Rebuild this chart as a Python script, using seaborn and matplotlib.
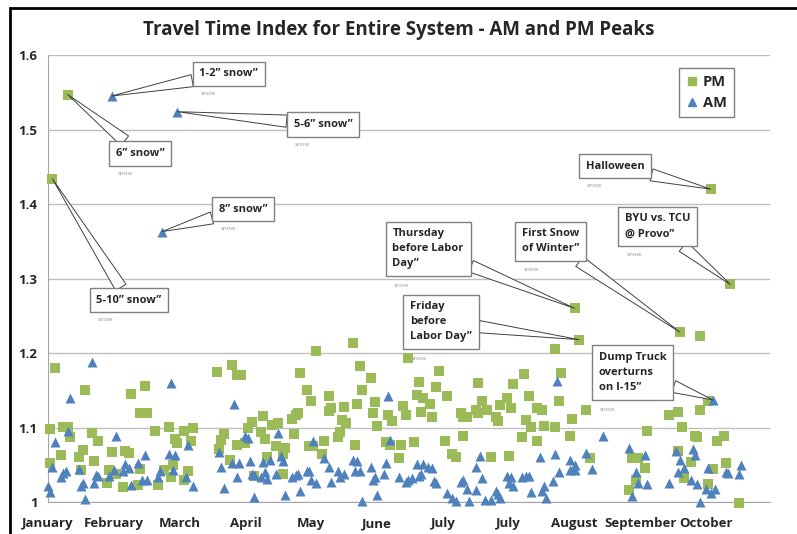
import matplotlib
matplotlib.use("Agg")
import matplotlib.pyplot as plt
import matplotlib.patches as patches
from matplotlib.lines import Line2D
import pandas as pd
import seaborn as sns

# day of the year (30 days per tick) and travel time index
pm_day = [1, 1, 2, 3, 6, 7, 9, 9, 10, 14, 15, 16, 17, 20, 21, 23, 27, 28, 29, 31, 34, 35, 37, 38, 41, 42, 42, 44, 45, 49,
          50, 53, 55, 56, 57, 58, 59, 62, 62, 64, 65, 66,
          77, 78, 79, 80, 83, 84, 86, 86, 88, 90, 91, 93, 94, 97, 98, 99, 100, 102, 104, 105, 107, 107, 108, 111, 112,
          113, 114, 115, 118, 119, 120, 121, 122, 125, 126, 128, 128, 129, 132,
          133, 134, 135, 136, 139, 140, 141, 142, 143, 147, 148, 149, 150, 154, 155, 156, 157, 160, 161, 162, 163, 164,
          167, 168, 169, 170, 171, 174, 175, 177, 178, 181, 182, 184, 186, 188, 189, 189, 191, 195, 196, 196,
          198, 200, 202, 204, 205, 206, 209, 210, 211, 212, 216, 217, 218, 219, 220, 223, 223, 225, 226, 231, 231, 233,
          234, 238, 239, 240, 242, 245, 247,
          265, 266, 268, 269, 272, 273, 283, 287, 287, 288, 289, 290, 293, 295, 296, 297, 297, 301, 301, 302, 303, 305,
          308, 309, 311, 315]
pm_tti = [1.098, 1.053, 1.434, 1.180, 1.063, 1.101, 1.101, 1.547, 1.087, 1.060, 1.043, 1.070, 1.150, 1.093, 1.055, 1.082,
          1.026, 1.043, 1.067, 1.038, 1.020, 1.068, 1.066, 1.145, 1.023, 1.120, 1.044, 1.156, 1.119, 1.096,
          1.023, 1.043, 1.101, 1.034, 1.050, 1.084, 1.079, 1.095, 1.030, 1.042, 1.082, 1.100,
          1.174, 1.071, 1.083, 1.091, 1.057, 1.184, 1.171, 1.076, 1.171, 1.079, 1.100, 1.108, 1.035, 1.094, 1.115, 1.084,
          1.061, 1.104, 1.075, 1.106, 1.065, 1.038, 1.072, 1.111, 1.091,
          1.117, 1.119, 1.173, 1.151, 1.075, 1.135, 1.075, 1.203, 1.065, 1.082, 1.142, 1.122, 1.126, 1.087,
          1.094, 1.110, 1.128, 1.106, 1.214, 1.076, 1.132, 1.183, 1.150, 1.167, 1.120, 1.134, 1.102, 1.080, 1.117, 1.076,
          1.109, 1.059, 1.077, 1.129, 1.117, 1.193,
          1.081, 1.144, 1.161, 1.121, 1.139, 1.132, 1.114, 1.154, 1.176, 1.082, 1.142, 1.065, 1.061, 1.120, 1.114, 1.088,
          1.114, 1.123, 1.119, 1.160,
          1.135, 1.123, 1.060, 1.114, 1.109, 1.130, 1.140, 1.062, 1.126, 1.158, 1.087, 1.172, 1.110, 1.142, 1.101, 1.126,
          1.082, 1.123, 1.102, 1.206, 1.101, 1.136,
          1.173, 1.088, 1.112, 1.260, 1.218, 1.124, 1.059,
          1.016, 1.059, 1.029, 1.059, 1.045, 1.095, 1.117, 1.121, 1.068, 1.228, 1.101, 1.032, 1.054, 1.089, 1.087, 1.223,
          1.123, 1.135, 1.024, 1.420, 1.044, 1.082,
          1.089, 1.053, 1.292, 0.999]

am_day = [0, 1, 2, 3, 6, 7, 8, 9, 10, 14, 15, 16, 17, 20, 21, 22, 23, 28, 29, 30, 31, 34, 35, 37, 38, 41, 43, 44, 45, 50,
          51, 52, 55, 56, 57, 58, 59, 63, 64, 66,
          78, 79, 80, 84, 85, 86, 87, 90, 91, 92, 93, 94, 94, 97, 98, 99, 100, 101, 104, 105, 106, 107, 108, 111, 113,
          114, 115, 118, 119, 120, 121, 122, 126, 128, 129,
          132, 133, 135, 139, 140, 141, 142, 143, 147, 148, 149, 150, 153, 154, 155, 156, 160, 163, 164, 166, 168, 169,
          170, 171, 173, 175, 176, 177, 182, 184, 186, 188, 189, 191, 192, 195, 195,
          197, 198, 199, 202, 204, 205, 206, 209, 210, 211, 212, 216, 218, 219, 220, 224, 225, 226, 227, 230, 231, 232,
          233, 238, 238, 240, 240, 245, 248, 253,
          265, 266, 268, 269, 272, 273, 283, 286, 287, 288, 290, 293, 294, 295, 296, 297, 300, 301, 302, 303, 304, 309,
          310, 315, 316]
am_tti = [1.021, 1.014, 1.047, 1.080, 1.034, 1.039, 1.042, 1.096, 1.139, 1.044, 1.021, 1.026, 1.004, 1.188, 1.025, 1.036,
          1.035, 1.035, 1.545, 1.043, 1.088, 1.041, 1.051, 1.045, 1.023, 1.053, 1.030, 1.063, 1.030, 1.034,
          1.041, 1.363, 1.064, 1.160, 1.043, 1.063, 1.524, 1.033, 1.077, 1.021,
          1.067, 1.047, 1.019, 1.052, 1.132, 1.033, 1.052, 1.088, 1.086, 1.055, 1.037, 1.036, 1.007, 1.034, 1.054, 1.040,
          1.031, 1.056, 1.038, 1.093, 1.062, 1.055, 1.010, 1.033, 1.036,
          1.038, 1.015, 1.041, 1.042, 1.030, 1.082, 1.026, 1.059, 1.047, 1.027,
          1.041, 1.034, 1.038, 1.056, 1.042, 1.055, 1.041, 1.002, 1.047, 1.030, 1.034, 1.009, 1.038, 1.053, 1.142, 1.083,
          1.033, 1.027, 1.030, 1.032, 1.051, 1.035,
          1.038, 1.051, 1.047, 1.046, 1.028, 1.025, 1.012, 1.005, 1.002, 1.027, 1.030, 1.017, 1.002, 1.047, 1.016,
          1.062, 1.032, 1.003, 1.003, 1.015, 1.011, 1.006, 1.035, 1.026, 1.034, 1.021, 1.034, 1.035, 1.035, 1.013, 1.061,
          1.015, 1.021, 1.005, 1.028, 1.064, 1.162,
          1.040, 1.056, 1.043, 1.050, 1.043, 1.066, 1.044, 1.088,
          1.073, 1.008, 1.040, 1.025, 1.063, 1.024, 1.026, 1.068, 1.040, 1.056, 1.045, 1.029, 1.071, 1.063, 1.024, 1.000,
          1.017, 1.045, 1.012, 1.137, 1.018, 1.040,
          1.039, 1.038, 1.050]

month_ticks = [0, 30, 60, 90, 120, 150, 180, 210, 240, 270, 300]
month_labels = ["January", "February", "March", "April", "May", "June",
                "July", "July", "August", "September", "October"]
y_ticks = [1.0, 1.1, 1.2, 1.3, 1.4, 1.5, 1.6]
y_labels = ["1", "1.1", "1.2", "1.3", "1.4", "1.5", "1.6"]

# (series, day of the event, label, label x, label y, lines)
events = [
    ("AM", 29, "1-2\u201d snow\u201d", 69, 1.575, 1),
    ("PM", 9, "6\u201d snow\u201d", 31, 1.468, 1),
    ("AM", 59, "5-6\u201d snow\u201d", 112, 1.507, 1),
    ("AM", 52, "8\u201d snow\u201d", 78, 1.393, 1),
    ("PM", 2, "5-10\u201d snow\u201d", 22, 1.271, 1),
    ("PM", 302, "Halloween", 245, 1.451, 1),
    ("PM", 311, "BYU vs. TCU\n@ Provo\u201d", 263, 1.370, 2),
    ("PM", 288, "First Snow\nof Winter\u201d", 216, 1.350, 2),
    ("PM", 240, "Thursday\nbefore Labor\nDay\u201d", 157, 1.340, 3),
    ("PM", 242, "Friday\nbefore\nLabor Day\u201d", 165, 1.242, 3),
    ("AM", 303, "Dump Truck\noverturns\non I-15\u201d", 251, 1.174, 3),
]

pm_color = "#9BBB59"
am_color = "#4F81BD"

df_pm = pd.DataFrame({"day": pm_day, "tti": pm_tti})
df_am = pd.DataFrame({"day": am_day, "tti": am_tti})

sns.set_style("white")
plt.rcParams["font.family"] = ["Open Sans", "DejaVu Sans"]

fig = plt.figure(figsize=(7.97, 5.34), dpi=100)
ax = fig.add_axes([0.0602, 0.0599, 0.9058, 0.837])

sns.scatterplot(data=df_pm, x="day", y="tti", marker="s", color=pm_color, s=42,
                linewidth=0, ax=ax, clip_on=False, zorder=3)
sns.scatterplot(data=df_am, x="day", y="tti", marker="^", color=am_color, s=52,
                linewidth=0, ax=ax, clip_on=False, zorder=3)

ax.set_xlim(0, 329)
ax.set_ylim(1.0, 1.6)
ax.set_xticks(month_ticks)
ax.set_xticklabels(month_labels, fontsize=9.5, fontweight="bold")
ax.set_yticks(y_ticks)
ax.set_yticklabels(y_labels, fontsize=9.5, fontweight="bold")
ax.set_xlabel("")
ax.set_ylabel("")
ax.tick_params(axis="both", length=4, color="#a6a6a6", direction="out")
ax.tick_params(axis="x", pad=7)
ax.yaxis.grid(True, color="#bfbfbf", lw=1)
ax.set_axisbelow(True)
for side in ["top", "right"]:
    ax.spines[side].set_visible(False)
for side in ["left", "bottom"]:
    ax.spines[side].set_color("#a6a6a6")

series = {"PM": df_pm, "AM": df_am}
for name, day, label, tx, ty, lines in events:
    d = series[name]
    val = d.loc[d["day"] == day, "tti"].max()
    ax.annotate(label, xy=(day, val), xytext=(tx, ty), textcoords="data",
                ha="left", va="center", fontsize=8, fontweight="bold",
                linespacing=1.5,
                bbox=dict(boxstyle="square,pad=0.6", fc="white", ec="#808080", lw=1),
                arrowprops=dict(arrowstyle="wedge,tail_width=1.1,shrink_factor=0.5",
                                fc="white", ec="#404040", lw=0.7,
                                shrinkA=0, shrinkB=0),
                zorder=5)
    # faint leftover text under each callout
    ax.annotate("snow", xy=(tx, ty), xytext=(1, -(lines * 6.2 + 8)),
                textcoords="offset points", fontsize=4.5, color="#9a9a9a",
                ha="left", va="center", zorder=6)

handles = [Line2D([], [], marker="s", color=pm_color, ls="", markersize=6),
           Line2D([], [], marker="^", color=am_color, ls="", markersize=6)]
leg = ax.legend(handles, ["PM", "AM"], loc="upper right", bbox_to_anchor=(0.95, 0.972),
                borderaxespad=0, fancybox=False, edgecolor="#7f7f7f", framealpha=1,
                prop={"weight": "bold", "size": 10.5}, handlelength=0.8,
                handletextpad=0.3, borderpad=0.5, labelspacing=0.5)
leg.get_frame().set_linewidth(1)

fig.text(0.5, 0.944, "Travel Time Index for Entire System - AM and PM Peaks",
         ha="center", va="center", fontsize=13.5, fontweight="bold")

fig.patches.append(patches.Rectangle((0.0125, -0.1), 1.2, 1.085, transform=fig.transFigure,
                                     fill=False, ec="black", lw=2))

fig.savefig("out.png", dpi=100)
